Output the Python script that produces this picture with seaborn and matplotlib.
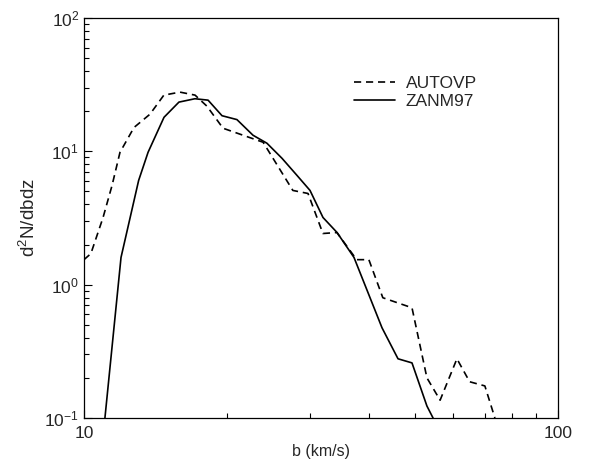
import numpy as np
import pandas as pd
import matplotlib
matplotlib.use("Agg")
import matplotlib.pyplot as plt
import seaborn as sns
from matplotlib.ticker import FixedLocator, FixedFormatter, LogLocator, NullFormatter

# Data
autovp_b = [10.0, 10.34, 10.97, 11.46, 11.91, 12.75, 13.78, 14.74, 15.94, 17.15, 18.17,
            19.65, 21.66, 23.87, 27.58, 29.69, 31.92, 34.16, 37.6, 39.9, 42.7, 49.2,
            52.9, 56.4, 61.2, 65.1, 70.1, 73.6]
autovp_n = [1.54, 1.71, 3.19, 5.55, 9.83, 15.1, 19.0, 26.4, 27.8, 26.4, 21.8,
            14.9, 13.2, 11.7, 5.09, 4.83, 2.42, 2.46, 1.54, 1.54, 0.798, 0.671,
            0.200, 0.136, 0.278, 0.187, 0.174, 0.100]

zanm_b = [11.07, 11.97, 13.04, 13.65, 14.75, 15.86, 17.14, 18.27, 19.55, 21.02, 22.73,
          24.32, 26.17, 28.14, 29.98, 31.93, 34.19, 37.12, 42.53, 45.97, 49.2, 52.9, 54.5]
zanm_n = [0.100, 1.60, 6.05, 9.83, 18.0, 23.4, 24.8, 24.2, 18.5, 17.3, 13.2,
          11.5, 8.86, 6.60, 5.09, 3.19, 2.46, 1.60, 0.475, 0.278, 0.259, 0.123, 0.100]

series_names = ["AUTOVP", "ZANM97"]
x_tick_values = [10, 100]
x_tick_labels = ["10", "100"]

df = pd.concat([
    pd.DataFrame({"b": autovp_b, "n": autovp_n, "series": series_names[0]}),
    pd.DataFrame({"b": zanm_b, "n": zanm_n, "series": series_names[1]}),
], ignore_index=True)

sns.set_style("ticks")
plt.rcParams["font.family"] = ["Liberation Sans", "DejaVu Sans"]
plt.rcParams["mathtext.fontset"] = "custom"
plt.rcParams["mathtext.rm"] = "Liberation Sans"
plt.rcParams["mathtext.it"] = "Liberation Sans:italic"

fig = plt.figure(figsize=(5.93, 4.63), dpi=100)
ax = fig.add_axes([84/593, 45/463, 474/593, 400/463])

sns.lineplot(data=df, x="b", y="n", hue="series", style="series",
             palette={"AUTOVP": "black", "ZANM97": "black"},
             dashes={"AUTOVP": (4.3, 2.9), "ZANM97": ""},
             linewidth=1.2, sort=False, estimator=None, ax=ax, legend=True)

ax.set_xscale("log")
ax.set_yscale("log")
ax.set_xlim(10, 100)
ax.set_ylim(0.1, 100)

ax.xaxis.set_major_locator(FixedLocator(x_tick_values))
ax.xaxis.set_major_formatter(FixedFormatter(x_tick_labels))
ax.xaxis.set_minor_locator(LogLocator(base=10, subs=np.arange(2, 10)))
ax.xaxis.set_minor_formatter(NullFormatter())
ax.yaxis.set_minor_locator(LogLocator(base=10, subs=np.arange(2, 10)))
ax.yaxis.set_minor_formatter(NullFormatter())

ax.tick_params(which="both", direction="in", top=False, right=False, color="black")
ax.tick_params(which="major", length=6, width=0.8, labelsize=12.5)
ax.tick_params(which="minor", length=3.5, width=0.8)
ax.tick_params(axis="x", which="major", pad=6)
for s in ax.spines.values():
    s.set_color("black")
    s.set_linewidth(0.9)

ax.set_xlabel("b (km/s)", fontsize=11.5, labelpad=2)
ax.set_ylabel("d$^2$N/dbdz", fontsize=13.5, labelpad=4)

leg = ax.legend(loc="upper left", bbox_to_anchor=(0.537, 0.895), frameon=False,
                fontsize=12.5, handlelength=2.35, handletextpad=0.63, labelspacing=0.17)

fig.savefig("out.png", dpi=100)
